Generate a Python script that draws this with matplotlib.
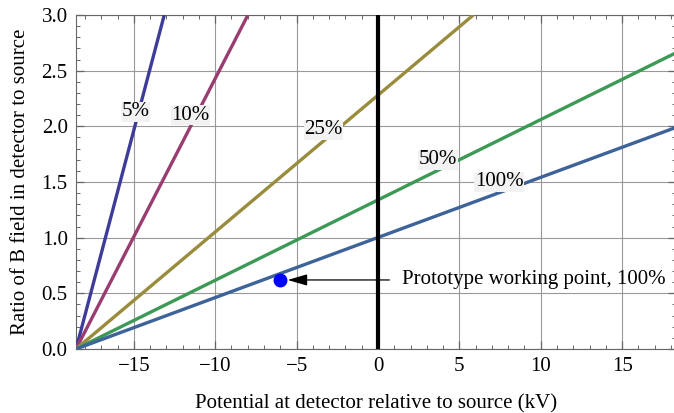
import matplotlib.pyplot as plt
from matplotlib.ticker import MultipleLocator

plt.rcParams['font.family'] = ['Liberation Serif', 'DejaVu Serif']

# lines all start at the lower left corner and run to these end points
x_start = -18.55
labels = ["5%", "10%", "25%", "50%", "100%"]
x_end = [-13.13, -7.99, 5.86, 18.3, 18.3]
y_end = [3.0, 3.0, 3.0, 2.66, 1.99]
colors = ["#3d3d99", "#993d71", "#998c3d", "#3d9956", "#3d6399"]
label_x = [-14.89, -11.5, -3.37, 3.68, 7.44]
label_y = [2.13, 2.10, 1.97, 1.70, 1.50]

point_x, point_y = -6.0, 0.62
point_text = "Prototype working point, 100%"

fs = 15

fig = plt.figure(figsize=(6.74, 4.13), dpi=100)
ax = fig.add_axes([0.1128, 0.155, 0.89, 0.8087])

for xe, ye, c in zip(x_end, y_end, colors):
    ax.plot([x_start, xe], [0, ye], color=c, lw=2.4, solid_capstyle='butt', zorder=3)

for lab, lx, ly in zip(labels, label_x, label_y):
    ax.text(lx, ly, lab, fontsize=fs, ha='center', va='center', zorder=4,
            bbox=dict(facecolor='#f2f2f2', edgecolor='none', pad=0.3))

ax.axvline(0, color='black', lw=3, zorder=3)

ax.plot(point_x, point_y, 'o', color='#0000ff', ms=9, zorder=5)
ax.annotate("", xy=(point_x + 0.45, point_y), xytext=(0.7, point_y),
            arrowprops=dict(arrowstyle='-|>,head_length=1.2,head_width=0.35',
                            color='black', lw=0.9, shrinkA=0, shrinkB=0), zorder=5)
ax.text(1.5, point_y, point_text, fontsize=fs, va='center', ha='left', zorder=5)

ax.set_xlim(x_start, 18.3)
ax.set_ylim(0, 3.0)
ax.xaxis.set_major_locator(MultipleLocator(5))
ax.xaxis.set_minor_locator(MultipleLocator(1))
ax.yaxis.set_major_locator(MultipleLocator(0.5))
ax.yaxis.set_minor_locator(MultipleLocator(0.1))
ax.yaxis.set_major_formatter(plt.FormatStrFormatter('%.1f'))
ax.grid(True, which='major', color='#999999', lw=0.8, zorder=1)
ax.tick_params(which='both', direction='in', top=True, right=True, labelsize=fs, color='#666666')
ax.tick_params(which='major', length=6, width=0.9, pad=6)
ax.tick_params(which='minor', length=3, width=0.7)
for s in ax.spines.values():
    s.set_color('#666666')
ax.set_axisbelow(True)

ax.set_xlabel("Potential at detector relative to source (kV)", fontsize=fs, labelpad=13)
ax.set_ylabel("Ratio of B field in detector to source", fontsize=fs, labelpad=8)

fig.savefig("out.png", dpi=100)
